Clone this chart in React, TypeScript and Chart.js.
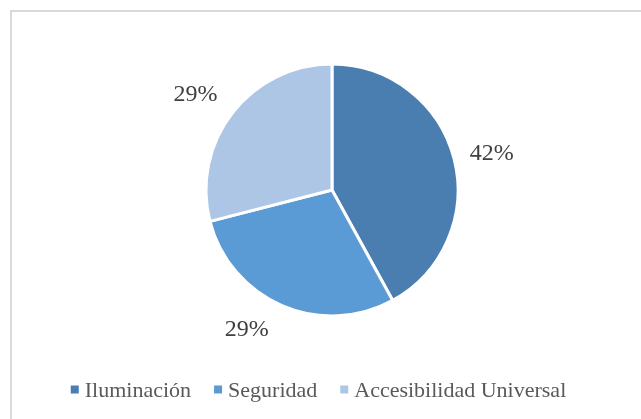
import React, { useEffect, useRef } from "react";
import { Chart, registerables } from "chart.js";

Chart.register(...registerables);

const categories = ["Iluminación", "Seguridad", "Accesibilidad Universal"];
const values = [42, 29, 29];
const colors = ["#4a7eb1", "#5b9bd5", "#adc6e6"];
// small per-label nudges (px) applied after radial placement
const labelNudges = [
  [1, 4],
  [-20, -11],
  [-7, 5],
];

const FONT = '"Liberation Serif", "Times New Roman", serif';

const frameLines = {
  id: "frameLines",
  beforeDraw(chart: any) {
    const ctx = chart.ctx;
    ctx.save();
    ctx.fillStyle = "#ffffff";
    ctx.fillRect(0, 0, chart.width, chart.height);
    ctx.fillStyle = "#d9d9d9";
    ctx.fillRect(10, 10, 2, chart.height - 10);
    ctx.fillRect(10, 10, chart.width - 10, 2);
    ctx.restore();
  },
};

const outsideLabels = {
  id: "outsideLabels",
  afterDatasetsDraw(chart: any) {
    const ctx = chart.ctx;
    const meta = chart.getDatasetMeta(0);
    const data = chart.data.datasets[0].data as number[];
    const total = data.reduce((a, b) => a + b, 0);
    ctx.save();
    ctx.font = `24px ${FONT}`;
    ctx.fillStyle = "#404040";
    ctx.textAlign = "center";
    ctx.textBaseline = "middle";
    meta.data.forEach((arc: any, i: number) => {
      const p = arc.getProps(["x", "y", "startAngle", "endAngle", "outerRadius"], true);
      const mid = (p.startAngle + p.endAngle) / 2;
      const r = p.outerRadius + 38;
      const nx = labelNudges[i] ? labelNudges[i][0] : 0;
      const ny = labelNudges[i] ? labelNudges[i][1] : 0;
      const lx = p.x + Math.cos(mid) * r + nx;
      const ly = p.y + Math.sin(mid) * r + ny;
      const pct = Math.round((data[i] / total) * 100) + "%";
      ctx.fillText(pct, lx, ly);
    });
    ctx.restore();
  },
};

const customLegend = {
  id: "customLegend",
  afterDraw(chart: any) {
    const ctx = chart.ctx;
    const labels = chart.data.labels as string[];
    const bg = chart.data.datasets[0].backgroundColor as string[];
    ctx.save();
    ctx.font = `22px ${FONT}`;
    const box = 8;
    const gap = 6;
    const itemGap = 23;
    const widths = labels.map((l) => ctx.measureText(l).width);
    const total =
      widths.reduce((a, w) => a + box + gap + w, 0) + itemGap * (labels.length - 1);
    let x = chart.width / 2 - 2 - total / 2;
    const baseline = 397;
    labels.forEach((l, i) => {
      ctx.fillStyle = bg[i];
      ctx.fillRect(x, 385.5, box, box);
      ctx.fillStyle = "#595959";
      ctx.textAlign = "left";
      ctx.textBaseline = "alphabetic";
      ctx.fillText(l, x + box + gap, baseline);
      x += box + gap + widths[i] + itemGap;
    });
    ctx.restore();
  },
};

export default function App() {
  const canvasRef = useRef<HTMLCanvasElement | null>(null);

  useEffect(() => {
    if (!canvasRef.current) return;
    const chart = new Chart(canvasRef.current, {
      type: "pie",
      data: {
        labels: categories,
        datasets: [
          {
            data: values,
            backgroundColor: colors,
            borderColor: "#ffffff",
            borderWidth: 3,
          },
        ],
      },
      options: {
        responsive: false,
        animation: false,
        devicePixelRatio: 1,
        layout: {
          padding: { top: 62.5, bottom: 101.5, left: 204.5, right: 181.5 },
        },
        plugins: {
          legend: { display: false },
          tooltip: { enabled: false },
          title: { display: false },
        },
      },
      plugins: [frameLines, outsideLabels, customLegend],
    });
    return () => chart.destroy();
  }, []);

  return (
    <div style={{ position: "fixed", left: 0, top: 0, width: 641, height: 419, background: "#fff" }}>
      <canvas ref={canvasRef} width={641} height={419} style={{ display: "block", width: 641, height: 419 }} />
    </div>
  );
}
